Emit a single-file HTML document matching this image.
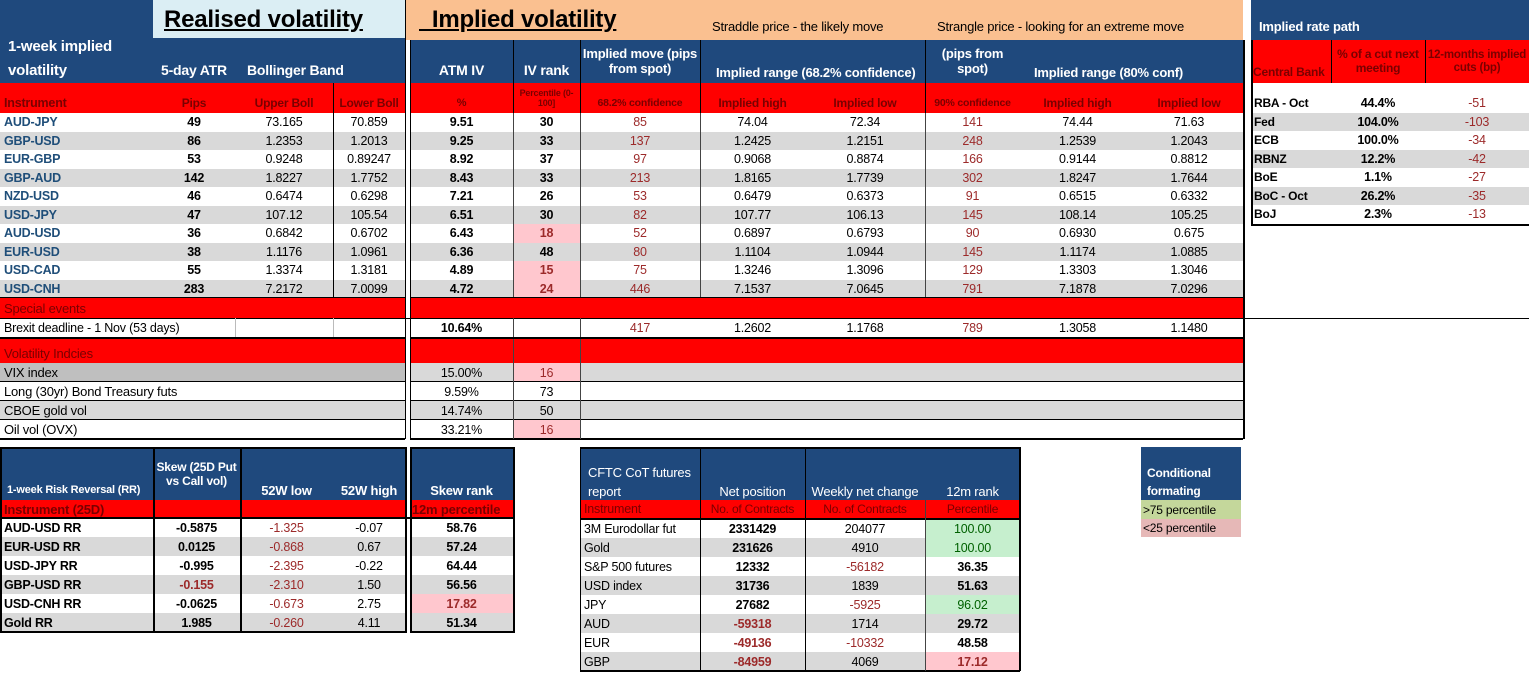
<!DOCTYPE html>
<html><head><meta charset="utf-8">
<style>
html,body{margin:0;padding:0;background:#fff;}
#root{position:relative;width:1529px;height:674px;overflow:hidden;font-family:"Liberation Sans",sans-serif;font-size:12px;letter-spacing:-0.2px;}
.c{position:absolute;box-sizing:border-box;white-space:nowrap;overflow:hidden;display:flex;align-items:center;}
</style></head><body>
<div id="root"></div>
<script>
const BLUE='#1f497d', RED='#ff0000', GRAY='#d9d9d9', PINK='#ffc7ce', GREEN='#c6efce', DRED='#9c2a2a', MAROON='#7a0000', INST='#1f4e79';
const root=document.getElementById('root');
function box(x,y,w,h,bg,name){const el=document.createElement('div');el.className='c';


el.style.cssText+=`left:${x}px;top:${y}px;width:${w}px;height:${h}px;background:${bg||'transparent'};`;root.appendChild(el);return el;}
function cell(x,y,w,h,txt,o){o=o||{};const el=box(x,y,w,h,o.bg,o.name||'cell');
el.textContent=txt;el.style.justifyContent=o.al==='l'?'flex-start':(o.al==='r'?'flex-end':'center');
el.style.paddingLeft=(o.al==='l'?(o.pl||4):0)+'px';el.style.paddingRight=(o.al==='r'?6:0)+'px';
el.style.color=o.col||'#000';el.style.fontWeight=o.b?'bold':'normal';el.style.fontSize=(o.fs||12.5)+'px';
if(o.wrap){el.style.whiteSpace='normal';el.style.textAlign='center';el.style.lineHeight=(o.lh||1.15);}
return el;}
function line(x,y,w,h,col,name){return box(x,y,w,h,col||'#000',name||'grid-line');}

const mainInst=['AUD-JPY','GBP-USD','EUR-GBP','GBP-AUD','NZD-USD','USD-JPY','AUD-USD','EUR-USD','USD-CAD','USD-CNH'];
const atrPips=['49','86','53','142','46','47','36','38','55','283'];
const upperBoll=['73.165','1.2353','0.9248','1.8227','0.6474','107.12','0.6842','1.1176','1.3374','7.2172'];
const lowerBoll=['70.859','1.2013','0.89247','1.7752','0.6298','105.54','0.6702','1.0961','1.3181','7.0099'];
const atmIV=['9.51','9.25','8.92','8.43','7.21','6.51','6.43','6.36','4.89','4.72'];
const ivRank=[30,33,37,33,26,30,18,48,15,24];
const impMove=['85','137','97','213','53','82','52','80','75','446'];
const impHigh=['74.04','1.2425','0.9068','1.8165','0.6479','107.77','0.6897','1.1104','1.3246','7.1537'];
const impLow=['72.34','1.2151','0.8874','1.7739','0.6373','106.13','0.6793','1.0944','1.3096','7.0645'];
const conf90=['141','248','166','302','91','145','90','145','129','791'];
const high80=['74.44','1.2539','0.9144','1.8247','0.6515','108.14','0.6930','1.1174','1.3303','7.1878'];
const low80=['71.63','1.2043','0.8812','1.7644','0.6332','105.25','0.675','1.0885','1.3046','7.0296'];
const volIdx=['VIX index','Long (30yr) Bond Treasury futs','CBOE gold vol','Oil vol (OVX)'];
const volIV=['15.00%','9.59%','14.74%','33.21%'];
const volRank=[16,73,50,16];
const rrInst=['AUD-USD RR','EUR-USD RR','USD-JPY RR','GBP-USD RR','USD-CNH RR','Gold RR'];
const rrSkew=['-0.5875','0.0125','-0.995','-0.155','-0.0625','1.985'];
const rrLow=['-1.325','-0.868','-2.395','-2.310','-0.673','-0.260'];
const rrHigh=['-0.07','0.67','-0.22','1.50','2.75','4.11'];
const rrRank=[58.76,57.24,64.44,56.56,17.82,51.34];
const cotInst=['3M Eurodollar fut','Gold','S&P 500 futures','USD index','JPY','AUD','EUR','GBP'];
const cotNet=[2331429,231626,12332,31736,27682,-59318,-49136,-84959];
const cotChg=[204077,4910,-56182,1839,-5925,1714,-10332,4069];
const cotRank=[100.00,100.00,36.35,51.63,96.02,29.72,48.58,17.12];
const cbNames=['RBA - Oct','Fed','ECB','RBNZ','BoE','BoC - Oct','BoJ'];
const cbCut=['44.4%','104.0%','100.0%','12.2%','1.1%','26.2%','2.3%'];
const cb12m=['-51','-103','-34','-42','-27','-35','-13'];

box(0,0,153,83,BLUE,'left-header-bg');
box(153,0,252,38,'#dbeef4','realised-title-bg');
box(153,38,252,45,BLUE,'realised-header-bg');
box(405,0,838,40,'#fac090','implied-title-bg');
box(410,40,833,43,BLUE,'implied-header-bg');
box(0,83,405,30,RED,'left-subheader');
box(410,83,833,30,RED,'right-subheader');
let e=cell(160,2,240,36,'Realised volatility',{al:'l',pl:0,b:1,fs:24,name:'realised-volatility-title'});e.style.textDecoration='underline';
e=cell(415,2,240,36,'\u00a0\u00a0Implied volatility',{al:'l',pl:0,b:1,fs:24,name:'implied-volatility-title'});e.style.textDecoration='underline';
cell(708,16,220,20,'Straddle price - the likely move',{al:'l',pl:0,fs:13,name:'straddle-title'});
cell(933,16,300,20,'Strangle price - looking for an extreme move',{al:'l',pl:0,fs:13,name:'strangle-title'});
cell(4,36,150,20,'1-week implied',{al:'l',pl:0,b:1,fs:15,col:'#fff',name:'header-1week'});
cell(4,60,150,20,'volatility',{al:'l',pl:0,b:1,fs:15,col:'#fff',name:'header-volatility'});
cell(157,60,90,20,'5-day ATR',{al:'l',pl:0,b:1,fs:14,col:'#fff',name:'header-atr'});
cell(243,60,130,20,'Bollinger Band',{al:'l',pl:0,b:1,fs:14,col:'#fff',name:'header-bollinger'});
cell(410,60,103,20,'ATM IV',{b:1,fs:14,col:'#fff',name:'header-atm-iv'});
cell(513,60,67,20,'IV rank',{b:1,fs:14,col:'#fff',name:'header-iv-rank'});
cell(580,40,120,43,'Implied move (pips from spot)',{wrap:1,b:1,fs:13,col:'#fff',name:'header-implied-move'});
cell(712,62,220,20,'Implied range (68.2% confidence)',{al:'l',pl:0,b:1,fs:13,col:'#fff',name:'header-range-68'});
cell(925,40,95,43,'(pips from spot)',{wrap:1,b:1,fs:13,col:'#fff',name:'header-pips-spot'});
cell(1030,62,200,20,'Implied range (80% conf)',{al:'l',pl:0,b:1,fs:13,col:'#fff',name:'header-range-80'});
const subY=93,subH=20;
cell(0,subY,153,subH,'Instrument',{al:'l',b:1,col:MAROON,fs:12.5,name:'sub-instrument'});
cell(153,subY,82,subH,'Pips',{b:1,col:MAROON,fs:12,name:'sub-pips'});
cell(235,subY,98,subH,'Upper Boll',{b:1,col:MAROON,fs:12,name:'sub-upper'});
cell(333,subY,72,subH,'Lower Boll',{b:1,col:MAROON,fs:12,name:'sub-lower'});
cell(410,subY,103,subH,'%',{b:1,col:MAROON,fs:11,name:'sub-pct'});
cell(513,84,67,29,'Percentile (0-100]',{wrap:1,lh:1.1,b:1,col:MAROON,fs:9,name:'sub-percentile'});
cell(580,subY,120,subH,'68.2% confidence',{b:1,col:MAROON,fs:10.5,name:'sub-68'});
cell(700,subY,105,subH,'Implied high',{b:1,col:MAROON,fs:12,name:'sub-high68'});
cell(805,subY,120,subH,'Implied low',{b:1,col:MAROON,fs:12,name:'sub-low68'});
cell(925,subY,95,subH,'90% confidence',{b:1,col:MAROON,fs:10.5,name:'sub-90'});
cell(1020,subY,115,subH,'Implied high',{b:1,col:MAROON,fs:12,name:'sub-high80'});
cell(1135,subY,108,subH,'Implied low',{b:1,col:MAROON,fs:12,name:'sub-low80'});

const RH=18.5, R0=113;
mainInst.forEach((n,i)=>{
 const y=R0+i*RH, bg=i%2?GRAY:'#fff';
 box(0,y,405,RH,bg,'row-bg');box(410,y,833,RH,bg,'row-bg');
 cell(0,y,153,RH,n,{al:'l',b:1,col:INST,name:'instrument-'+n});
 cell(153,y,82,RH,atrPips[i],{b:1,name:'atr-pips'});
 cell(235,y,98,RH,upperBoll[i],{name:'upper-boll'});
 cell(333,y,72,RH,lowerBoll[i],{name:'lower-boll'});
 cell(410,y,103,RH,atmIV[i],{b:1,name:'atm-iv'});
 const low=ivRank[i]<25;
 cell(513,y,67,RH,String(ivRank[i]),{b:1,bg:low?PINK:null,col:low?DRED:'#000',name:'iv-rank'});
 cell(580,y,120,RH,impMove[i],{col:DRED,name:'implied-move'});
 cell(700,y,105,RH,impHigh[i],{name:'implied-high-68'});
 cell(805,y,120,RH,impLow[i],{name:'implied-low-68'});
 cell(925,y,95,RH,conf90[i],{col:DRED,name:'conf-90'});
 cell(1020,y,115,RH,high80[i],{name:'implied-high-80'});
 cell(1135,y,108,RH,low80[i],{name:'implied-low-80'});
});
box(0,298,405,20,RED,'special-events-bar');box(410,298,833,20,RED,'special-events-bar-right');
cell(0,298,300,20,'Special events',{al:'l',col:MAROON,fs:13,name:'special-events-label'});
cell(0,318,300,19,'Brexit deadline - 1 Nov (53 days)',{al:'l',fs:12.5,name:'brexit-label'});
cell(410,318,103,19,'10.64%',{b:1,name:'brexit-iv'});
cell(580,318,120,19,'417',{col:DRED,name:'brexit-move'});
cell(700,318,105,19,'1.2602',{name:'brexit-high68'});
cell(805,318,120,19,'1.1768',{name:'brexit-low68'});
cell(925,318,95,19,'789',{col:DRED,name:'brexit-90'});
cell(1020,318,115,19,'1.3058',{name:'brexit-high80'});
cell(1135,318,108,19,'1.1480',{name:'brexit-low80'});
line(0,318,1529,1,'#000');
line(235,318,1,19,'#bbb');line(333,318,1,19,'#bbb');
box(0,337,405,26,RED,'vol-indices-bar');box(410,337,833,26,RED,'vol-indices-bar-right');
cell(0,343,300,20,'Volatility Indcies',{al:'l',col:MAROON,fs:13,name:'vol-indices-label'});
volIdx.forEach((n,i)=>{
 const y=363+i*19, bg=i%2?'#fff':GRAY;
 box(0,y,405,19,i===0?'#bfbfbf':bg,'vol-row-bg');box(410,y,833,19,bg,'vol-row-bg');
 cell(0,y,400,19,n,{al:'l',fs:13,name:'vol-index-'+i});
 cell(410,y,103,19,volIV[i],{name:'vol-iv'});
 const low=volRank[i]<25;
 cell(513,y,67,19,String(volRank[i]),{bg:low?PINK:null,col:low?DRED:'#000',name:'vol-rank'});
 line(0,y+18,405,1.5,'#000');line(410,y+18,833,1.5,'#000');
});
line(405,0,1,439);line(410,40,1,399);line(1243,40,1.5,399);
[513,580,700,925].forEach(x=>line(x,40,1,73));
line(333,83,1,215);
[513,580,700,925].forEach(x=>line(x,113,1,185,'#444'));
[513,580].forEach(x=>line(x,318,1,121,'#444'));
line(0,337,405,1.5);line(410,337,833,1.5);line(0,297,405,1);line(410,297,833,1);

box(1251,0,278,40,BLUE,'rate-header-bg');
cell(1255,16,200,20,'Implied rate path',{al:'l',pl:0,b:1,fs:13,col:'#fff',name:'rate-path-title'});
box(1251,40,278,43,RED,'rate-subheader-bg');
cell(1251,62,80,20,'Central Bank',{al:'l',pl:2,b:1,col:MAROON,fs:12,name:'rate-central-bank'});
cell(1331,42,94,40,'% of a cut next meeting',{wrap:1,b:1,col:MAROON,fs:12,name:'rate-cut-next'});
cell(1425,42,104,40,'12-months implied cuts (bp)',{wrap:1,b:1,col:MAROON,fs:11.5,name:'rate-12m'});
line(1331,40,1,43);line(1425,40,1,43);
cbNames.forEach((n,i)=>{
 const y=94+i*18.5, bg=i%2?GRAY:'#fff';
 box(1251,y,278,18.5,bg,'rate-row-bg');
 cell(1251,y,80,18.5,n,{al:'l',pl:3,b:1,fs:12,name:'cb-'+i});
 cell(1331,y,94,18.5,cbCut[i],{b:1,name:'cb-cut'});
 cell(1425,y,104,18.5,cb12m[i],{col:DRED,name:'cb-12m'});
});
line(1251,40,1.5,186);line(1251,224,278,1.5);

box(0,447,513,53,BLUE,'rr-header-bg');line(405,447,5,53,'#fff');
box(0,500,405,18,RED,'rr-sub-bg');box(410,500,103,18,RED,'rr-sub-bg2');
cell(3,480,150,20,'1-week Risk Reversal (RR)',{al:'l',pl:0,b:1,fs:11,col:'#fff',name:'rr-title'});
cell(153,452,87,46,'Skew (25D Put vs Call vol)',{wrap:1,b:1,fs:12,col:'#fff',name:'rr-skew-h'});
cell(240,480,93,20,'52W low',{b:1,fs:13,col:'#fff',name:'rr-low-h'});
cell(333,480,72,20,'52W high',{b:1,fs:13,col:'#fff',name:'rr-high-h'});
cell(410,480,103,20,'Skew rank',{b:1,fs:13,col:'#fff',name:'rr-rank-h'});
cell(0,500,153,18,'Instrument (25D)',{al:'l',b:1,col:MAROON,fs:13,name:'rr-sub-inst'});
cell(410,500,103,18,'12m percentile',{al:'l',pl:2,b:1,col:MAROON,fs:13,name:'rr-sub-pct'});
rrInst.forEach((n,i)=>{
 const y=518+i*19, bg=i%2?GRAY:'#fff';
 box(0,y,405,19,bg,'rr-row-bg');box(410,y,103,19,bg,'rr-row-bg');
 cell(0,y,153,19,n,{al:'l',b:1,name:'rr-inst'});
 cell(153,y,87,19,rrSkew[i],{b:1,col:n==='GBP-USD RR'?DRED:'#000',name:'rr-skew'});
 cell(240,y,93,19,rrLow[i],{col:DRED,name:'rr-low'});
 cell(333,y,72,19,rrHigh[i],{name:'rr-high'});
 const low=rrRank[i]<25;
 cell(410,y,103,19,rrRank[i].toFixed(2),{b:1,bg:low?PINK:null,col:low?DRED:'#000',name:'rr-rank'});
});
[0,153,240].forEach(x=>line(x,447,1.5,186));line(405,447,1.5,186);line(410,447,1.5,186);line(513,447,1.5,186);
line(0,447,405,1.5);line(410,447,103,1.5);line(0,631,405,2);line(410,631,103,2);line(0,517,513,1.5);

box(580,447,440,53,BLUE,'cot-header-bg');box(580,500,440,18,RED,'cot-sub-bg');
cell(584,462,120,20,'CFTC CoT futures',{al:'l',pl:0,fs:13,col:'#fff',name:'cot-title1'});
cell(584,481,120,20,'report',{al:'l',pl:0,fs:13,col:'#fff',name:'cot-title2'});
cell(700,481,105,20,'Net position',{fs:13,col:'#fff',name:'cot-net-h'});
cell(805,481,120,20,'Weekly net change',{fs:13,col:'#fff',name:'cot-chg-h'});
cell(925,481,95,20,'12m rank',{fs:13,col:'#fff',name:'cot-rank-h'});
cell(580,500,120,18,'Instrument',{al:'l',col:MAROON,fs:12.5,name:'cot-sub-inst'});
cell(700,500,105,18,'No. of Contracts',{col:MAROON,fs:12,name:'cot-sub-net'});
cell(805,500,120,18,'No. of Contracts',{col:MAROON,fs:12,name:'cot-sub-chg'});
cell(925,500,95,18,'Percentile',{col:MAROON,fs:12,name:'cot-sub-pct'});
cotInst.forEach((n,i)=>{
 const y=519+i*19, bg=i%2?GRAY:'#fff';
 box(580,y,440,19,bg,'cot-row-bg');
 cell(580,y,120,19,n,{al:'l',fs:12.5,name:'cot-inst'});
 cell(700,y,105,19,String(cotNet[i]),{b:1,col:cotNet[i]<0?DRED:'#000',name:'cot-net'});
 cell(805,y,120,19,String(cotChg[i]),{col:cotChg[i]<0?DRED:'#000',name:'cot-chg'});
 const r=cotRank[i],hi=r>75,lo=r<25;
 cell(925,y,95,19,r.toFixed(2),{b:!hi,bg:hi?GREEN:(lo?PINK:null),col:hi?'#006100':(lo?DRED:'#000'),name:'cot-rank'});
});
line(580,447,440,1.5);line(580,670,440,2);line(580,518,440,1.5);
[580,700,805].forEach(x=>line(x,447,1.2,224));line(1019,447,1.5,224);line(925,500,1,171,'#444');

box(1141,447,100,53,BLUE,'cf-header-bg');
cell(1143,464,98,18,'Conditional',{al:'l',pl:0,b:1,fs:12,col:'#fff',name:'cf-title1'});
cell(1143,482,98,18,'formating',{al:'l',pl:0,b:1,fs:12,col:'#fff',name:'cf-title2'});
cell(1141,500,100,19,'>75 percentile',{al:'l',pl:2,bg:'#c4d79b',fs:12,name:'cf-green'});
cell(1141,519,100,18,'<25 percentile',{al:'l',pl:2,bg:'#e6b8b7',fs:12,name:'cf-pink'});
</script>
</body></html>
